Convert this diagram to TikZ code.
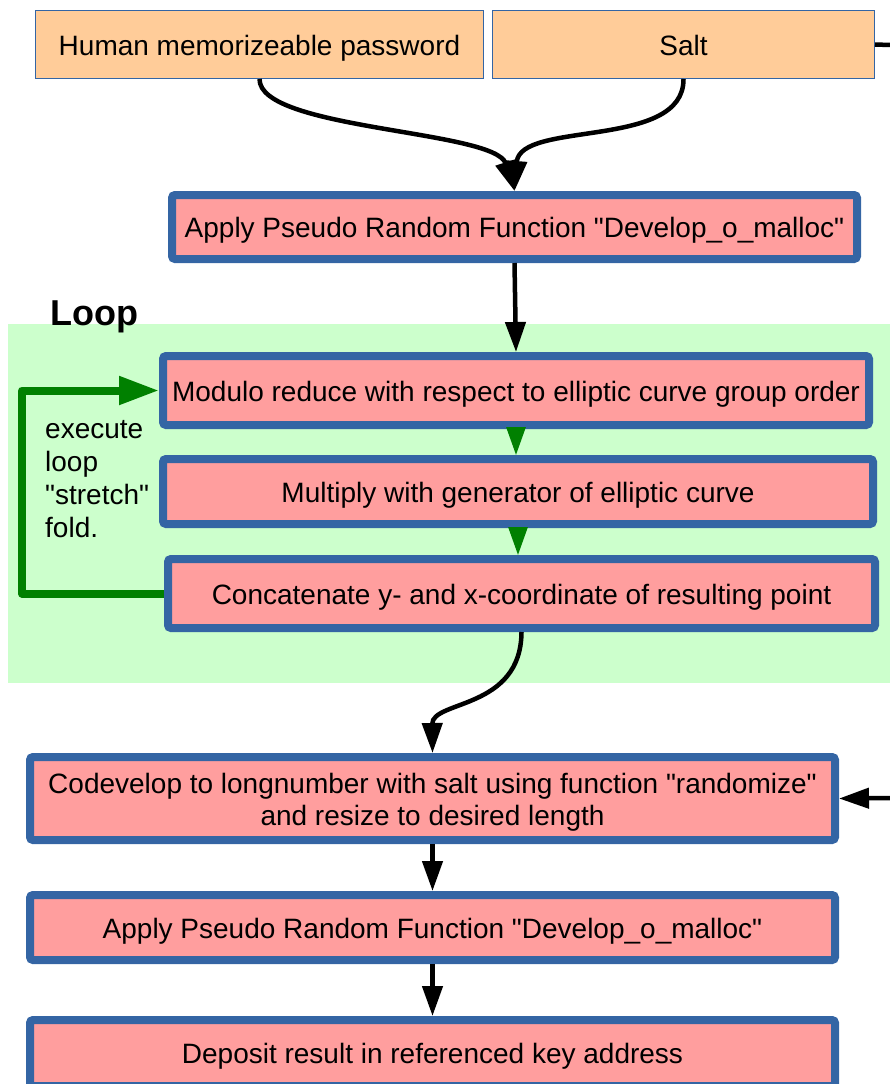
\documentclass[tikz,border=0pt]{standalone}
\usepackage{fontspec}
\setmainfont{Liberation Sans}[Ligatures=TeXOff]
\usetikzlibrary{arrows.meta}
\definecolor{peach}{HTML}{FFCC99}
\definecolor{pinkfill}{HTML}{FF9E9E}
\definecolor{loopbg}{HTML}{CCFFCC}
\definecolor{bordblue}{HTML}{3465A4}
\definecolor{loopgreen}{HTML}{008000}
\begin{document}
\begin{tikzpicture}[x=1pt,y=-1pt, font=\fontsize{28}{32}\selectfont,
  oneline/.style={text height=26pt, text depth=5pt},
  inbox/.style={draw=bordblue, line width=1pt, fill=peach, inner sep=0pt, oneline},
  stepbox/.style={draw=bordblue, line width=8pt, fill=pinkfill, rounded corners=3pt, inner sep=0pt, align=center},
  arr/.style={line width=4.5pt, -{Triangle[length=30pt,width=20pt]}},
  garr/.style={draw=loopgreen, line width=3pt, -{Triangle[length=28pt,width=19pt]}},
  looparr/.style={draw=loopgreen, line width=8pt, line join=round, -{Triangle[length=40pt,width=27pt]}}]
\path[use as bounding box] (0,0) rectangle (890,1084);
\clip (0,0) rectangle (890,1084);
% loop background
\fill[loopbg] (8,324) rectangle (890,683);
\node[anchor=base west, font=\bfseries\fontsize{36}{40}\selectfont, inner sep=0pt] (looplbl) at (50,325) {Loop};
% inputs
\node[inbox, minimum width=448pt, minimum height=68pt] (pw) at (259.5,44.5) {Human memorizeable password};
\node[inbox, minimum width=382pt, minimum height=68pt] (salt) at (683.5,44.5) {Salt};
% steps
\node[stepbox, oneline, minimum width=685pt, minimum height=64pt] (prf1) at (514.5,227) {Apply Pseudo Random Function "Develop\_o\_malloc"};
\node[stepbox, oneline, minimum width=706pt, minimum height=69pt] (mod) at (516,390.5) {Modulo reduce with respect to elliptic curve group order};
\node[stepbox, oneline, minimum width=710pt, minimum height=65pt] (mul) at (518,491.5) {Multiply with generator of elliptic curve};
\node[stepbox, oneline, minimum width=707pt, minimum height=69pt] (cat) at (521.5,593.5) {Concatenate y- and x-coordinate of resulting point};
\node[stepbox, text height=58pt, text depth=5pt, minimum width=805pt, minimum height=83pt] (cod) at (432.5,798.5) {Codevelop to longnumber with salt using function "randomize"\\and resize to desired length};
\node[stepbox, oneline, minimum width=805pt, minimum height=65pt] (prf2) at (432.5,927.5) {Apply Pseudo Random Function "Develop\_o\_malloc"};
\node[stepbox, oneline, minimum width=805pt, minimum height=66pt] (dep) at (432.5,1053) {Deposit result in referenced key address};
% loop label
\node[anchor=base west, align=left, inner sep=0pt, font=\fontsize{28}{33}\selectfont] (lbl) at (45,537) {execute\\loop\\"stretch"\\fold.};
% off-picture connector ends
\coordinate (rout) at (890,45);
\coordinate (rin) at (890,798);
% connectors
\draw[arr] (pw.south) .. controls (259,130) and (495,130) .. (prf1.north);
\draw[arr] (salt.south) .. controls (684,150) and (520,120) .. (prf1.north);
\draw[line width=4.5pt] (salt.east) -- (rout);
\draw[arr] (prf1.south) -- (mod.north);
\draw[garr] (mod.south) -- (mod.south |- mul.north);
\draw[garr] (mul.south) -- (mul.south |- cat.north);
\draw[looparr] (cat.west) -- ([xshift=-142pt]cat.west) |- (mod.west);
\draw[arr] (cat.south) .. controls (521,710) and (432,700) .. (cod.north);
\draw[arr] (rin) -- (cod.east);
\draw[arr] (cod.south) -- (prf2.north);
\draw[arr] (prf2.south) -- (dep.north);
\end{tikzpicture}
\end{document}
